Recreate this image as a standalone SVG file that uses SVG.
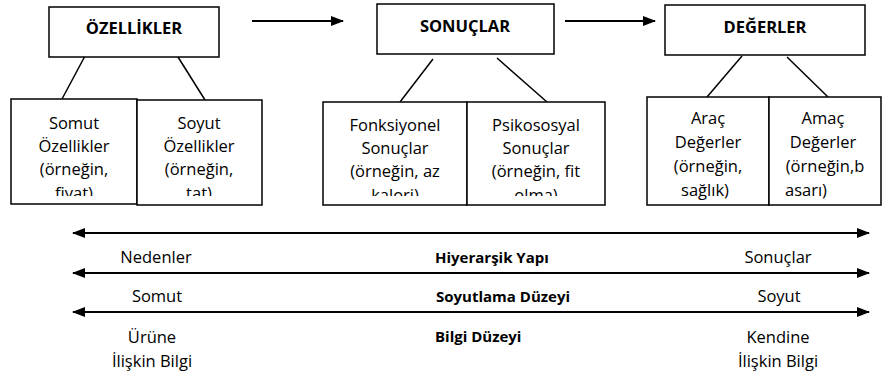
<svg xmlns="http://www.w3.org/2000/svg" width="882" height="376" viewBox="0 0 882 376">
<style>
.box{fill:#fff;stroke:#000;stroke-width:1.5}
.t{font-family:"Open Sans","DejaVu Sans",sans-serif;font-size:16.5px;fill:#000;text-anchor:middle}
.h{font-family:"Open Sans","DejaVu Sans",sans-serif;font-size:16.5px;font-weight:bold;fill:#000;text-anchor:middle}
.b{font-family:"Open Sans","DejaVu Sans",sans-serif;font-size:15px;font-weight:bold;fill:#000}
.ln{stroke:#000;stroke-width:1.5;fill:none}
.ar{stroke:#000;stroke-width:2;fill:none}
</style>
<defs>
<marker id="ah" viewBox="0 0 13 10" refX="12" refY="5" markerWidth="13" markerHeight="10" markerUnits="userSpaceOnUse" orient="auto-start-reverse">
<path d="M0,0 L13,5 L0,10 Z" fill="#000"/>
</marker>
<clipPath id="c1"><rect x="11" y="99" width="126" height="97"/></clipPath>
<clipPath id="c2"><rect x="137" y="99" width="125" height="97"/></clipPath>
<clipPath id="c3"><rect x="323" y="102" width="144" height="94"/></clipPath>
<clipPath id="c4"><rect x="467" y="102" width="138" height="94"/></clipPath>
<clipPath id="c5"><rect x="647" y="97" width="122" height="103"/></clipPath>
<clipPath id="c6"><rect x="769" y="97" width="112" height="103"/></clipPath>
</defs>
<rect width="882" height="376" fill="#fff"/>

<g id="connectors">
<line class="ln" x1="85" y1="56" x2="62" y2="99"/>
<line class="ln" x1="178" y1="57" x2="205" y2="100"/>
<line class="ln" x1="433" y1="59" x2="400" y2="102"/>
<line class="ln" x1="497" y1="58" x2="547" y2="102"/>
<line class="ln" x1="742" y1="56" x2="707" y2="97"/>
<line class="ln" x1="787" y1="57" x2="828" y2="97"/>
<line class="ar" x1="252" y1="21" x2="343" y2="21" marker-end="url(#ah)"/>
<line class="ar" x1="565" y1="21" x2="655" y2="21" marker-end="url(#ah)"/>
<line class="ar" x1="73" y1="233" x2="869" y2="233" marker-start="url(#ah)" marker-end="url(#ah)"/>
<line class="ar" x1="73" y1="273" x2="869" y2="273" marker-start="url(#ah)" marker-end="url(#ah)"/>
<line class="ar" x1="73" y1="312" x2="869" y2="312" marker-start="url(#ah)" marker-end="url(#ah)"/>
</g>

<g id="ozellikler">
<rect class="box" x="49" y="7" width="170" height="50"/>
<text class="h" x="134" y="34">ÖZELLİKLER</text>
</g>
<g id="sonuclar">
<rect class="box" x="377" y="4" width="177" height="50"/>
<text class="h" x="465" y="32">SONUÇLAR</text>
</g>
<g id="degerler">
<rect class="box" x="665" y="5" width="200" height="50"/>
<text class="h" x="765" y="33">DEĞERLER</text>
</g>

<g id="somut">
<rect class="box" x="11" y="99" width="126" height="105"/>
<g clip-path="url(#c1)">
<text class="t" x="74" y="129">Somut</text>
<text class="t" x="74" y="152">Özellikler</text>
<text class="t" x="74" y="175">(örneğin,</text>
<text class="t" x="74" y="199">fiyat)</text>
</g>
</g>
<g id="soyut">
<rect class="box" x="137" y="100" width="125" height="105"/>
<g clip-path="url(#c2)">
<text class="t" x="199" y="129">Soyut</text>
<text class="t" x="199" y="152">Özellikler</text>
<text class="t" x="199" y="175">(örneğin,</text>
<text class="t" x="199" y="199">tat)</text>
</g>
</g>
<g id="fonksiyonel">
<rect class="box" x="323" y="102" width="144" height="103"/>
<g clip-path="url(#c3)">
<text class="t" x="395" y="131">Fonksiyonel</text>
<text class="t" x="395" y="154">Sonuçlar</text>
<text class="t" x="395" y="177">(örneğin, az</text>
<text class="t" x="395" y="201">kalori)</text>
</g>
</g>
<g id="psikososyal">
<rect class="box" x="467" y="102" width="138" height="103"/>
<g clip-path="url(#c4)">
<text class="t" x="536" y="131">Psikososyal</text>
<text class="t" x="536" y="154">Sonuçlar</text>
<text class="t" x="536" y="177">(örneğin, fit</text>
<text class="t" x="536" y="201">olma)</text>
</g>
</g>
<g id="arac">
<rect class="box" x="647" y="97" width="122" height="108"/>
<g clip-path="url(#c5)">
<text class="t" x="708" y="124">Araç</text>
<text class="t" x="708" y="148">Değerler</text>
<text class="t" x="708" y="172">(örneğin,</text>
<text class="t" x="705" y="196">sağlık)</text>
</g>
</g>
<g id="amac">
<rect class="box" x="769" y="97" width="112" height="108"/>
<g clip-path="url(#c6)">
<text class="t" x="823" y="124">Amaç</text>
<text class="t" x="823" y="148">Değerler</text>
<text class="t" x="825" y="172">(örneğin,b</text>
<text class="t" x="785" y="196" style="text-anchor:start">asarı)</text>
</g>
</g>

<g id="labels">
<text class="t" x="156" y="263">Nedenler</text>
<text class="t" x="157" y="302">Somut</text>
<text class="t" x="152" y="343">Ürüne</text>
<text class="t" x="152" y="367">İlişkin Bilgi</text>
<text class="b" x="435" y="263">Hiyerarşik Yapı</text>
<text class="b" x="436" y="302">Soyutlama Düzeyi</text>
<text class="b" x="435" y="342">Bilgi Düzeyi</text>
<text class="t" x="778" y="263">Sonuçlar</text>
<text class="t" x="779" y="302">Soyut</text>
<text class="t" x="778" y="343">Kendine</text>
<text class="t" x="778" y="367">İlişkin Bilgi</text>
</g>
</svg>
